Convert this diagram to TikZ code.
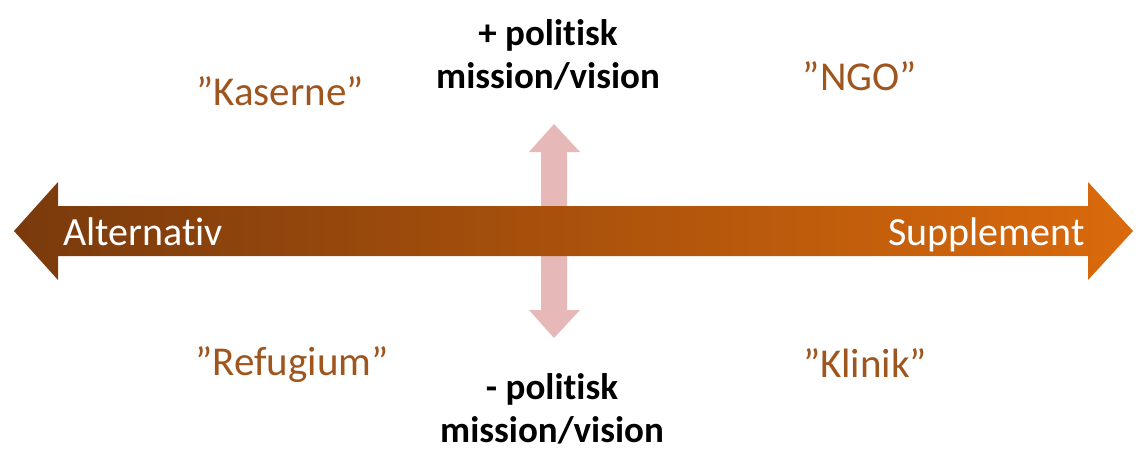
\documentclass[tikz,border=0pt]{standalone}
\usepackage{fontspec}
\setmainfont{Carlito}[Ligatures=NoCommon]
\usetikzlibrary{positioning}
\definecolor{arrowdark}{HTML}{7A3A0C}
\definecolor{arrowlight}{HTML}{DA6A0C}
\definecolor{axispink}{HTML}{E6B9B8}
\definecolor{quadbrown}{HTML}{9E561E}
\tikzset{
    quadrant/.style={text=quadbrown, font=\fontsize{41}{48}\selectfont, anchor=base, inner sep=0pt},
    axisend/.style={text=white, font=\fontsize{40}{48}\selectfont, inner sep=0pt},
    politics/.style={font=\bfseries\fontsize{37}{43}\selectfont, align=center, anchor=base, inner sep=0pt}
}

\begin{document}
\begin{tikzpicture}[x=1pt, y=-1pt]
    \useasboundingbox (0, 0) rectangle (1139, 448);
    \fill[axispink] (554, 124) -- (580, 152) -- (567, 152) -- (567, 310) -- (580, 310) -- (554, 338)
        -- (529, 310) -- (541, 310) -- (541, 152) -- (529, 152) -- cycle;
    \shade[left color=arrowdark, right color=arrowlight] (14, 231) -- (58, 182) -- (58, 206) -- (1088, 206)
        -- (1088, 182) -- (1133, 231) -- (1088, 280) -- (1088, 256) -- (58, 256) -- (58, 280) -- cycle;
    \node[axisend, anchor=base west] (alt) at (63, 245) {Alternativ};
    \node[axisend, anchor=base east] (sup) at (1085, 245) {Supplement};
    \node[quadrant] (kaserne) at (280, 105) {”Kaserne”};
    \node[quadrant] (ngo) at (860, 90) {”NGO”};
    \node[quadrant] (refugium) at (292, 375) {”Refugium”};
    \node[quadrant] (klinik) at (865, 377) {”Klinik”};
    \node[politics] (pluspol) at (548, 88) {+ politisk\\mission/vision};
    \node[politics] (minuspol) at (552, 442) {- politisk\\mission/vision};
\end{tikzpicture}
\end{document}
